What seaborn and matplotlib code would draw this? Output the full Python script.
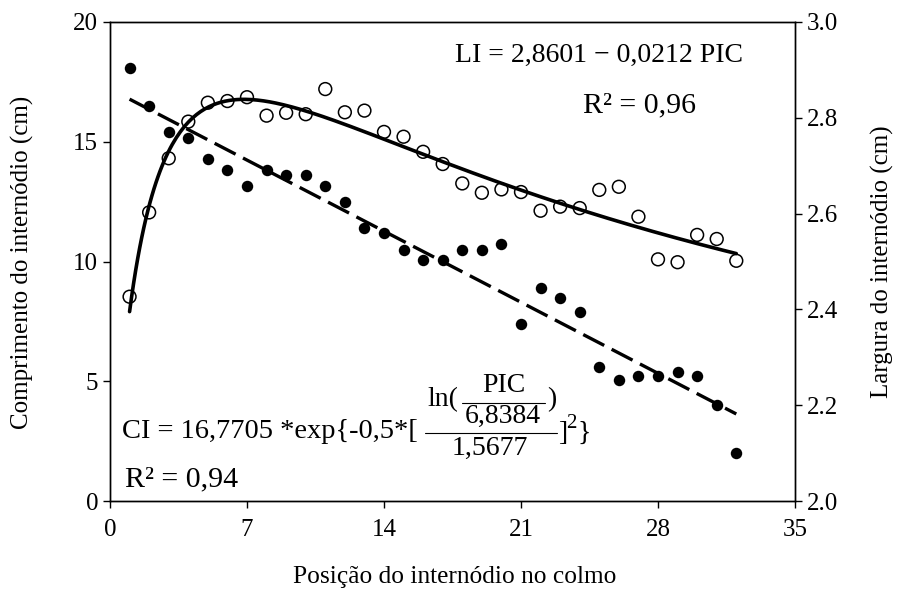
import numpy as np
import pandas as pd
import matplotlib
matplotlib.use("Agg")
import matplotlib.pyplot as plt
import seaborn as sns
from matplotlib.lines import Line2D

# ---------------- data ----------------
position = list(range(1, 33))
length_cm = [8.53, 12.05, 14.31, 15.84, 16.63, 16.70, 16.86, 16.09, 16.21, 16.15,
             17.20, 16.23, 16.30, 15.41, 15.21, 14.58, 14.07, 13.26, 12.87, 13.01,
             12.90, 12.12, 12.29, 12.23, 12.99, 13.12, 11.87, 10.09, 9.97, 11.11,
             10.94, 10.03]
width_cm = [2.903, 2.825, 2.770, 2.757, 2.714, 2.692, 2.658, 2.692, 2.681, 2.681,
            2.658, 2.625, 2.569, 2.559, 2.525, 2.503, 2.503, 2.524, 2.524, 2.537,
            2.370, 2.445, 2.424, 2.395, 2.279, 2.253, 2.260, 2.260, 2.269, 2.261,
            2.200, 2.101]

# fitted equations shown on the chart
ci_a, ci_x0, ci_b = 16.7705, 6.8384, 1.5677
li_a, li_b = 2.8601, -0.0212

x_ticks = [0, 7, 14, 21, 28, 35]
left_ticks = [0, 5, 10, 15, 20]
right_ticks = [2.0, 2.2, 2.4, 2.6, 2.8, 3.0]

# ---------------- style ----------------
sns.set_theme(style="ticks")
plt.rcParams["font.family"] = ["Liberation Serif", "DejaVu Serif"]
plt.rcParams["lines.scale_dashes"] = False
plt.rcParams["axes.edgecolor"] = "black"
plt.rcParams["xtick.color"] = "black"
plt.rcParams["ytick.color"] = "black"
plt.rcParams["text.color"] = "black"

W, H = 907, 607
fig = plt.figure(figsize=(W / 100, H / 100), dpi=100)
ax = fig.add_axes([110 / W, 1 - 501 / H, 685 / W, 479 / H])
ax2 = ax.twinx()

xs = np.linspace(min(position), max(position), 300)
ci_curve = ci_a * np.exp(-0.5 * (np.log(xs / ci_x0) / ci_b) ** 2)
li_curve = li_a + li_b * xs

df_curve = pd.DataFrame({"x": xs, "ci": ci_curve, "li": li_curve})
df = pd.DataFrame({"pos": position, "length": length_cm, "width": width_cm})

# length (left axis): open circles + solid fitted curve on top
sns.scatterplot(data=df, x="pos", y="length", ax=ax, marker="o",
                facecolor="none", edgecolor="black", s=85, linewidth=1.1,
                zorder=3)
sns.lineplot(data=df_curve, x="x", y="ci", ax=ax, color="black", linewidth=2.6,
             zorder=4)

# width (right axis): filled circles + dashed fitted line
sns.scatterplot(data=df, x="pos", y="width", ax=ax2, marker="o",
                color="black", s=68, linewidth=0, zorder=3)
sns.lineplot(data=df_curve, x="x", y="li", ax=ax2, color="black", linewidth=2.4,
             zorder=4)
ax2.lines[-1].set_dashes([17, 6])
ax2.lines[-1].set_dash_capstyle("butt")

# axes limits / ticks
ax.set_xlim(0, 35)
ax.set_ylim(0, 20)
ax2.set_ylim(2.0, 3.0)
ax.set_xticks(x_ticks)
ax.set_yticks(left_ticks)
ax2.set_yticks(right_ticks)
ax2.set_yticklabels([f"{v:.1f}" for v in right_ticks])
ax.set_xlabel("")
ax.set_ylabel("")
ax2.set_ylabel("")

for a in (ax, ax2):
    a.tick_params(direction="out", length=5, width=1.0, labelsize=18,
                  color="black")
    for sp in a.spines.values():
        sp.set_visible(True)
        sp.set_color("black")
        sp.set_linewidth(1.0)
ax.tick_params(axis="x", pad=8)

fs = 18
fe = 20


def fx(px):
    return px / W


def fy(py):
    return 1 - py / H


# axis labels
fig.text(fx(455), fy(577), "Posição do internódio no colmo", ha="center",
         va="center", fontsize=18.3)
fig.text(fx(22), fy(262), "Comprimento do internódio (cm)", ha="center",
         va="center", rotation=90, fontsize=fs)
fig.text(fx(882), fy(262), "Largura do internódio (cm)", ha="center",
         va="center", rotation=90, fontsize=fs)

# linear equation (top right)
fig.text(fx(455), fy(55), "LI = 2,8601 − 0,0212 PIC", ha="left", va="center",
         fontsize=fe)
fig.text(fx(583), fy(105), "R² = 0,96", ha="left", va="center", fontsize=21.5)

# log-normal equation (bottom left)
fig.text(fx(122), fy(432), "CI = 16,7705 *exp{-0,5*[", ha="left", va="center",
         fontsize=20.5)
fig.text(fx(427), fy(400), "ln(", ha="left", va="center", fontsize=fe)
fig.text(fx(504), fy(385), "PIC", ha="center", va="center", fontsize=fe)
fig.add_artist(Line2D([fx(462), fx(545)], [fy(403), fy(403)], color="black",
                      linewidth=0.8))
fig.text(fx(503), fy(416), "6,8384", ha="center", va="center", fontsize=fe)
fig.text(fx(547), fy(400), ")", ha="left", va="center", fontsize=fe)
fig.add_artist(Line2D([fx(425), fx(557)], [fy(433), fy(433)], color="black",
                      linewidth=0.8))
fig.text(fx(490), fy(448), "1,5677", ha="center", va="center", fontsize=fe)
fig.text(fx(558), fy(433), "]", ha="left", va="center", fontsize=fe)
fig.text(fx(566), fy(424), "2", ha="left", va="center", fontsize=15)
fig.text(fx(577), fy(433), "}", ha="left", va="center", fontsize=fe)
fig.text(fx(125), fy(479), "R² = 0,94", ha="left", va="center", fontsize=21.5)

fig.savefig("out.png", dpi=100)
